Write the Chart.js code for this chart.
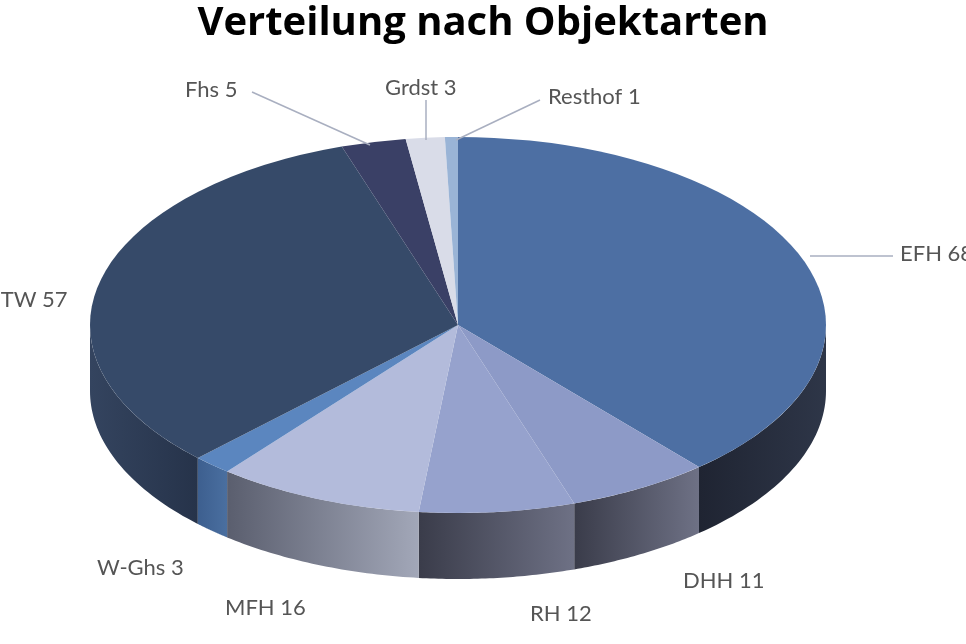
<!DOCTYPE html>
<html><head><meta charset="utf-8">
<script src="https://cdn.jsdelivr.net/npm/chart.js@4"></script>
<style>html,body{margin:0;padding:0;background:#fff;overflow:hidden}</style>
</head><body>
<canvas id="c" width="966" height="644"></canvas>
<script>
const categories = ["EFH","DHH","RH","MFH","W-Ghs","ETW","Fhs","Grdst","Resthof"];
const values = [68, 11, 12, 16, 3, 57, 5, 3, 1];
const topColors = ["#4d6fa3","#8d9ac7","#96a2cd","#b3bbdb","#5b86bf","#364a69","#3a4066","#d9dce8","#9ab4d6"];
const sideColors = [["#2e3648","#1f2432"],["#6e7185","#3a3c4a"],["#6e7185","#3a3c4a"],["#a2a7b8","#5a5e6e"],["#4a6fa0","#3d5f8f"],["#26334a","#34445f"],["#2a2f4a","#2a2f4a"],["#b0b3c0","#b0b3c0"],["#7c94b6","#7c94b6"]];
// label placement: [textX, textY, align, leaderFromX, leaderFromY, leaderToX, leaderToY]
const labelPlace = {
  "EFH":[900,254,"left",810,256,893,256],
  "ETW":[-12,300,"left"],
  "Fhs":[185,90,"left",252,92,370,145],
  "Grdst":[385,88,"left",426,100,426,140],
  "Resthof":[548,97,"left",540,100,456,140],
  "W-Ghs":[97,568,"left"],
  "MFH":[225,608,"left"],
  "RH":[530,614,"left"],
  "DHH":[683,581,"left"]
};
const cx=458, cy=325, rx=368, ry=188, depth=66;
const pie3d = {
  id:'pie3d',
  beforeDatasetsDraw(chart){
    const ctx=chart.ctx;
    const arcs=chart.getDatasetMeta(0).data;
    const P=(a,dy)=>[cx+rx*Math.cos(a), cy+ry*Math.sin(a)+(dy||0)];
    // sides (front half: angles 0..PI)
    arcs.forEach((arc,i)=>{
      let s=arc.startAngle, e=arc.endAngle;
      // normalize to [0, 2PI)
      const norm=a=>{a%= (2*Math.PI); return a<0?a+2*Math.PI:a;};
      let ranges=[];
      let ns=norm(s), ne=ns+(e-s);
      [[0,Math.PI],[2*Math.PI,3*Math.PI]].forEach(([lo,hi])=>{
        const a=Math.max(ns,lo), b=Math.min(ne,hi);
        if(b>a) ranges.push([a,b]);
      });
      ranges.forEach(([a,b])=>{
        const [x1]=P(a), [x2]=P(b);
        const g=ctx.createLinearGradient(Math.min(x1,x2),0,Math.max(x1,x2),0);
        g.addColorStop(0,sideColors[i][1]); g.addColorStop(1,sideColors[i][0]);
        ctx.beginPath();
        const n=40;
        for(let k=0;k<=n;k++){const t=a+(b-a)*k/n; const p=P(t); k?ctx.lineTo(p[0],p[1]):ctx.moveTo(p[0],p[1]);}
        for(let k=n;k>=0;k--){const t=a+(b-a)*k/n; const p=P(t,depth); ctx.lineTo(p[0],p[1]);}
        ctx.closePath(); ctx.fillStyle=g; ctx.fill();
      });
    });
    // top
    arcs.forEach((arc,i)=>{
      ctx.save();
      ctx.translate(cx,cy); ctx.scale(1,ry/rx);
      ctx.beginPath(); ctx.moveTo(0,0);
      ctx.arc(0,0,rx,arc.startAngle,arc.endAngle);
      ctx.closePath(); ctx.fillStyle=topColors[i]; ctx.fill();
      ctx.restore();
    });
    // labels
    ctx.font='22px Lato'; ctx.fillStyle='#555'; ctx.textBaseline='middle';
    categories.forEach((c,i)=>{
      const lp=labelPlace[c];
      if(lp[3]!==undefined){
        ctx.strokeStyle='#a9afc0'; ctx.lineWidth=1.5;
        ctx.beginPath(); ctx.moveTo(lp[3],lp[4]); ctx.lineTo(lp[5],lp[6]); ctx.stroke();
      }
      ctx.textAlign=lp[2];
      ctx.fillText(c+" "+values[i], lp[0], lp[1]);
    });
    return false;
  }
};
new Chart(document.getElementById('c'),{
  type:'pie',
  data:{labels:categories,datasets:[{data:values,backgroundColor:topColors,borderWidth:0}]},
  options:{responsive:false,animation:false,
    plugins:{legend:{display:false},tooltip:{enabled:false},
      title:{display:true,text:'Verteilung nach Objektarten',color:'#000',font:{family:'Open Sans',size:40,weight:'bold'},padding:{top:0,bottom:10}}}},
  plugins:[pie3d]
});
</script>
</body></html>
